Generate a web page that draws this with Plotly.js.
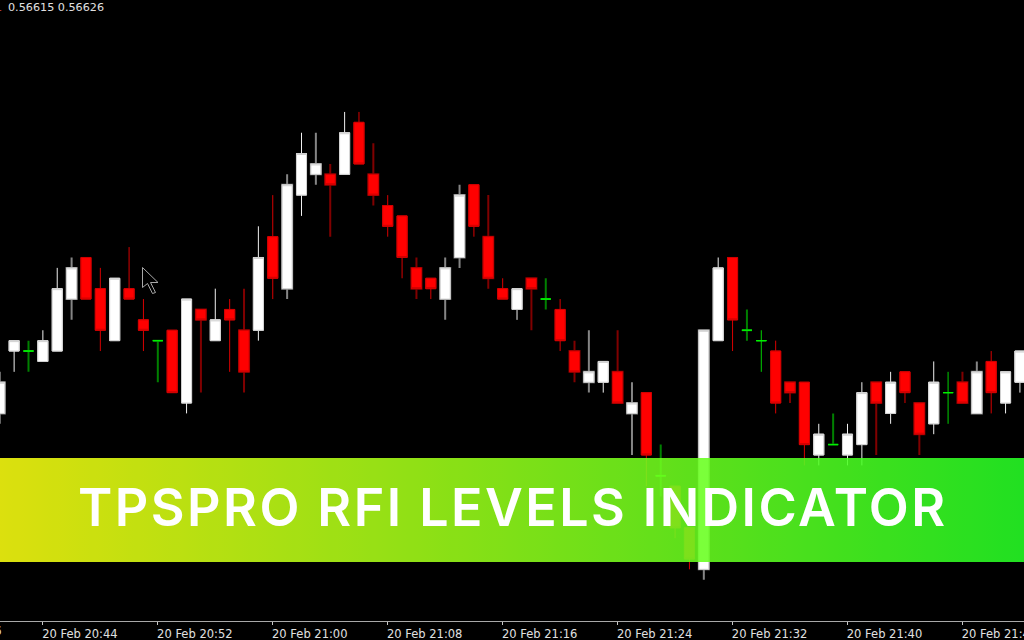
<!DOCTYPE html>
<html>
<head>
<meta charset="utf-8">
<script src="https://cdn.plot.ly/plotly-3.0.1.min.js"></script>
<style>html,body{margin:0;padding:0;background:#000;overflow:hidden}
text.annotation-text[data-unformatted^="TPSPRO"]{letter-spacing:2.45px}</style>
</head>
<body>
<div id="chart" style="width:1024px;height:640px"></div>
<script>
const times = ["20:41","20:42","20:43","20:44","20:45","20:46","20:47","20:48","20:49","20:50","20:51","20:52","20:53","20:54","20:55","20:56","20:57","20:58","20:59","21:00","21:01","21:02","21:03","21:04","21:05","21:06","21:07","21:08","21:09","21:10","21:11","21:12","21:13","21:14","21:15","21:16","21:17","21:18","21:19","21:20","21:21","21:22","21:23","21:24","21:25","21:26","21:27","21:28","21:29","21:30","21:31","21:32","21:33","21:34","21:35","21:36","21:37","21:38","21:39","21:40","21:41","21:42","21:43","21:44","21:45","21:46","21:47","21:48","21:49","21:50","21:51","21:52"];
const opens = [.56620,.56626,.56626,.56625,.56626,.56631,.56635,.56632,.56627,.56632,.56629,.56627,.56628,.56621,.56630,.56627,.56630,.56628,.56628,.56637,.56632,.56641,.56643,.56643,.56643,.56648,.56643,.56640,.56639,.56634,.56633,.56631,.56635,.56642,.56637,.56632,.56630,.56633,.56631,.56630,.56626,.56623,.56623,.56624,.56620,.56622,.56614,.56613,.56609,.56605,.56627,.56635,.56628,.56627,.56626,.56623,.56623,.56616,.56617,.56616,.56617,.56623,.56620,.56624,.56621,.56619,.56622,.56623,.56620,.56625,.56621,.56623];
const highs = [.56624,.56627,.56627,.56628,.56634,.56635,.56635,.56634,.56633,.56636,.56631,.56627,.56628,.56631,.56630,.56632,.56631,.56632,.56638,.56641,.56643,.56647,.56647,.56644,.56649,.56649,.56646,.56641,.56639,.56635,.56633,.56635,.56642,.56642,.56641,.56633,.56632,.56633,.56633,.56631,.56627,.56628,.56625,.56628,.56623,.56622,.56617,.56613,.56609,.56628,.56635,.56635,.56630,.56628,.56627,.56623,.56623,.56619,.56620,.56619,.56623,.56623,.56624,.56624,.56621,.56625,.56624,.56624,.56625,.56626,.56624,.56626];
const lows = [.56619,.56624,.56624,.56625,.56626,.56629,.56631,.56626,.56627,.56631,.56626,.56623,.56622,.56620,.56622,.56627,.56624,.56622,.56627,.56631,.56631,.56639,.56642,.56637,.56643,.56644,.56640,.56637,.56633,.56631,.56631,.56629,.56634,.56637,.56632,.56631,.56629,.56628,.56630,.56626,.56623,.56622,.56622,.56621,.56616,.56613,.56612,.56608,.56605,.56604,.56627,.56626,.56627,.56624,.56620,.56621,.56615,.56615,.56617,.56615,.56615,.56616,.56619,.56621,.56616,.56618,.56619,.56621,.56620,.56620,.56620,.56622];
const closes = [.56623,.56627,.56626,.56627,.56632,.56634,.56631,.56628,.56633,.56631,.56628,.56627,.56622,.56631,.56629,.56629,.56629,.56624,.56635,.56633,.56642,.56645,.56644,.56642,.56647,.56644,.56641,.56638,.56635,.56632,.56632,.56634,.56641,.56638,.56633,.56631,.56632,.56632,.56631,.56627,.56624,.56624,.56625,.56621,.56621,.56616,.56614,.56609,.56606,.56628,.56634,.56629,.56628,.56627,.56621,.56622,.56617,.56618,.56617,.56618,.56622,.56621,.56623,.56622,.56618,.56623,.56622,.56621,.56624,.56622,.56624,.56626];
const dimWicks = ["20:41","20:43","20:46","20:52","20:55","20:58","21:01","21:03","21:04","21:07","21:10","21:12","21:13","21:15","21:18","21:19","21:21","21:22","21:24","21:25","21:27","21:30","21:33","21:36","21:39","21:42","21:45","21:48","21:49"];
const tickEvery = 8;
const bannerText = "TPSPRO RFI LEVELS INDICATOR";
const headerText = "0.56615 0.56626";

const day = "2024-02-20 ";
const idx = times.map((_, i) => i);
const kind = i => closes[i] > opens[i] ? "up" : closes[i] < opens[i] ? "down" : "doji";
const dim = i => dimWicks.includes(times[i]);
const pick = (a, sel) => sel.map(i => a[i]);

function candle(sel, color, width, fill, hi, lo) {
  const side = {line: {color, width}, fillcolor: fill};
  return {
    type: "candlestick",
    x: sel.map(i => day + times[i]),
    open: pick(opens, sel), close: pick(closes, sel),
    high: hi ? sel.map(hi) : pick(highs, sel),
    low: lo ? sel.map(lo) : pick(lows, sel),
    increasing: side, decreasing: side,
    whiskerwidth: 0, showlegend: false, hoverinfo: "skip"
  };
}
const bodyTop = i => Math.max(opens[i], closes[i]);
const bodyBot = i => Math.min(opens[i], closes[i]);
const wickColors = {
  up:   {bright: "#f0f0f0", dim: "#858585"},
  down: {bright: "#d80000", dim: "#800000"},
  doji: {bright: "#00d000", dim: "#008000"}
};
const bodyStyle = {up: ["#d0d0d0", "#ffffff"], down: ["#d00000", "#ff0000"], doji: ["#00f000", "#00f000"]};
const traces = [];
["up", "down", "doji"].forEach(k => {
  const all = idx.filter(i => kind(i) === k);
  traces.push(candle(all.filter(dim), wickColors[k].dim, 2, wickColors[k].dim));
  traces.push(candle(all.filter(i => !dim(i)), wickColors[k].bright, 1, wickColors[k].bright));
});
["up", "down", "doji"].forEach(k => {
  const all = idx.filter(i => kind(i) === k);
  traces.push(candle(all, bodyStyle[k][0], 1, bodyStyle[k][1], bodyTop, bodyBot));
});

const H = 621, W = 1024;
const px = x => x / W, py = y => (H - y) / H;
const cursor = [[142.5,267.5],[158,282.5],[150.5,282.5],[155.5,292.5],[152.5,293.5],[147.5,283.5],[142.5,287.5]];
const cursorPath = "M" + cursor.map(p => px(p[0]) + "," + py(p[1])).join("L") + "Z";

const gradient = '<svg xmlns="http://www.w3.org/2000/svg" width="1024" height="104"><defs><linearGradient id="g" x1="0" x2="1" y1="0" y2="0"><stop offset="0" stop-color="#fbff10"/><stop offset="1" stop-color="#26ff26"/></linearGradient></defs><rect width="1024" height="104" fill="url(#g)"/></svg>';

const font = {family: "DejaVu Sans", size: 11.5, color: "#e0e0e0"};
const headFont = {family: "DejaVu Sans", size: 11.2, color: "#e0e0e0"};
const layout = {
  width: 1024, height: 640,
  margin: {l: 0, r: 0, t: 0, b: 19, pad: 0},
  paper_bgcolor: "#000", plot_bgcolor: "#000",
  showlegend: false, hovermode: false,
  boxmode: "overlay", boxgap: 0.3, boxgroupgap: 0,
  xaxis: {
    type: "date",
    range: [day + "20:41:01", day + "21:52:17"],
    rangeslider: {visible: false},
    showgrid: false, zeroline: false,
    showline: true, linecolor: "#a8a8a8", linewidth: 1,
    ticks: "outside", ticklen: 3, tickwidth: 1, tickcolor: "#c8c8c8",
    tick0: day + "20:44", dtick: tickEvery * 60000,
    tickformat: "%d %b %H:%M", tickfont: font,
    ticklabelshift: 37, ticklabeloverflow: "allow",
    ticklabelstandoff: -1
  },
  yaxis: {range: [0.5660003, 0.5665977], visible: false, fixedrange: true},
  shapes: [{type: "path", xref: "paper", yref: "paper", path: cursorPath, fillcolor: "#000", line: {color: "#a8a8a8", width: 1}, layer: "above"}],
  images: [{
    source: "data:image/svg+xml;base64," + btoa(gradient),
    xref: "paper", yref: "paper", x: 0, y: py(458), sizex: 1, sizey: 104 / H,
    xanchor: "left", yanchor: "top", sizing: "stretch", opacity: 0.88, layer: "above"
  }],
  annotations: [
    {xref: "paper", yref: "paper", x: px(512.5), y: py(507), text: bannerText, showarrow: false, xanchor: "center", yanchor: "middle",
     font: {family: "Inter", size: 52, color: "#ffffff", weight: 600}},
    {xref: "paper", yref: "paper", x: px(7), y: py(7), text: headerText, showarrow: false, xanchor: "left", yanchor: "middle", font: headFont, borderpad: 0},
    {xref: "paper", yref: "paper", x: px(3), y: py(7), text: "1", showarrow: false, xanchor: "right", yanchor: "middle", font: {family: "DejaVu Sans", size: 11.2, color: "#b04040"}, borderpad: 0},
    {xref: "paper", yref: "paper", x: px(2), y: py(631), text: "20 Feb 20:36", showarrow: false, xanchor: "right", yanchor: "middle", font: font, borderpad: 0}
  ]
};
Plotly.newPlot("chart", traces, layout, {displayModeBar: false, staticPlot: true});
</script>
</body>
</html>
